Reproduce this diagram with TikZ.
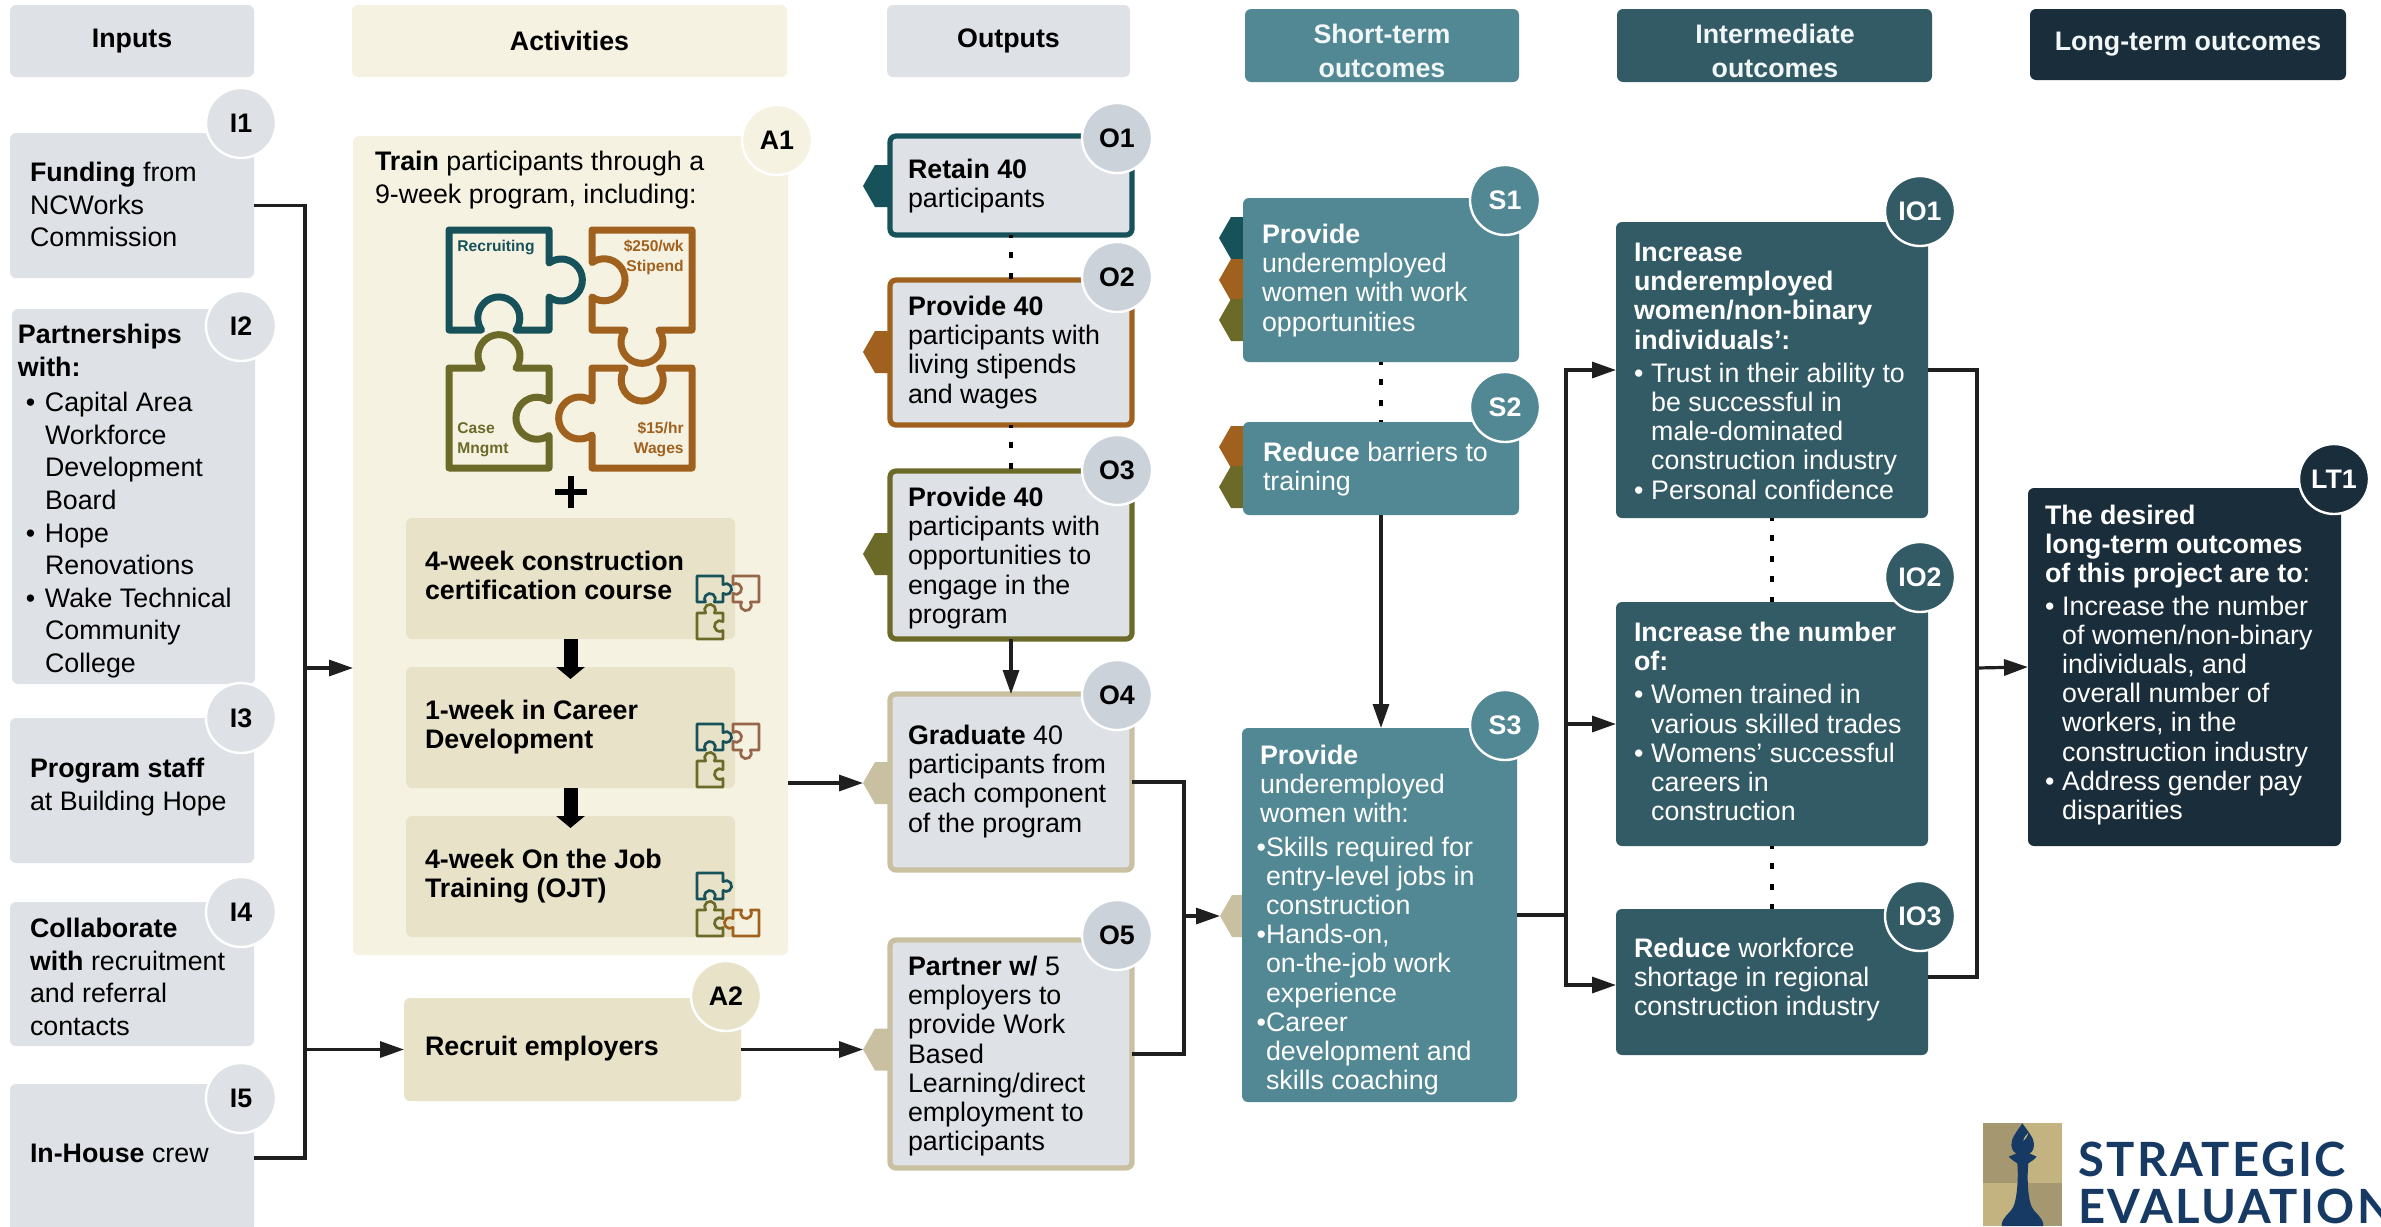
\documentclass[tikz,border=0pt]{standalone}
\usepackage{fontspec}
\setmainfont{Liberation Sans}
\newfontfamily\logofont[LetterSpace=5]{Lato}
\usetikzlibrary{arrows.meta,calc}
\definecolor{gfill}{HTML}{DEE1E6}
\definecolor{gbadge}{HTML}{CBD2DA}
\definecolor{cream}{HTML}{F5F2E1}
\definecolor{sand}{HTML}{E8E2C8}
\definecolor{stc}{HTML}{528893}
\definecolor{imc}{HTML}{335B66}
\definecolor{ltc}{HTML}{1A2D3B}
\definecolor{pteal}{HTML}{17525B}
\definecolor{pbrown}{HTML}{A0611E}
\definecolor{pbrownb}{HTML}{96664A}
\definecolor{polive}{HTML}{6B6A28}
\definecolor{ptan}{HTML}{C9C0A2}
\definecolor{navy}{HTML}{163A63}
\definecolor{lgdark}{HTML}{A59870}
\definecolor{lglight}{HTML}{C3B380}
\tikzset{
  x=0.5pt,y=-0.5pt,
  boxbase/.style={rectangle,inner sep=0pt,outer sep=0pt,rounded corners=3pt},
  grey/.style={fill=gfill},
  bord/.style={fill=gfill,draw=#1,line width=2.6pt},
  txta/.style={anchor=north west,inner sep=0pt,outer sep=0pt,align=left,font=\fontsize{13.4}{16.3}\selectfont,text=#1},
  txta/.default=black,
  txtb/.style={anchor=north west,inner sep=0pt,outer sep=0pt,align=left,font=\fontsize{13.4}{14.6}\selectfont,text=#1},
  txtb/.default=black,
  hdr/.style={anchor=center,inner sep=0pt,outer sep=0pt,align=center,font=\fontsize{13.4}{17}\selectfont\bfseries,text=#1},
  hdr/.default=black,
  pz/.style={anchor=center,inner sep=0pt,align=#1,font=\fontsize{7.8}{10}\selectfont\bfseries},
  conn/.style={line width=1.6pt,color=black!88},
  arr/.style={conn,-{Triangle[length=12pt,width=8pt]}},
  dots/.style={line width=1.8pt,dash pattern=on 3pt off 7.2pt,dash phase=1.5pt,color=black},
  block/.style={line width=7pt,-{Triangle[length=6pt,width=14pt]},shorten >=-6pt},
}
\newcommand\mybox[6]{\node[boxbase,#6,minimum width={(#4-#2)*0.5pt},minimum height={(#5-#3)*0.5pt}] (#1) at ({(#2+#4)/2},{(#3+#5)/2}) {};}
\newcommand\mybadge[5]{\node[circle,inner sep=0pt,minimum size=35pt,fill=#4,draw=white,line width=1.2pt,text=#5,font=\fontsize{13.4}{16}\selectfont\bfseries] (b#1) at (#2,#3) {#1};}
\newcommand\mytag[4]{\fill[#4] (#2,#3) -- (#2+12,#3-21) -- (#2+28,#3-21) -- (#2+28,#3+21) -- (#2+12,#3+21) -- cycle; \coordinate (#1) at (#2,#3);}
% puzzle piece: centre x, y, rotation, scale, colour, line width
\newcommand\mypuz[6]{\draw[#5,line width=#6,line join=round,shift={(#1,#2)},rotate=#3,scale=#4]
  (-50,-50) -- (50,-50) -- (50,-17) arc[start angle=-126,end angle=126,radius=21] -- (50,50) -- (17,50)
  arc[start angle=35,end angle=-215,radius=21] -- (-50,50) -- cycle;}
\newcommand\mybul{\makebox[8.6pt][l]{•}}
\newcommand\myind{\hspace*{8.6pt}}
\newcommand\mybuli{\hspace*{4pt}\makebox[9.5pt][l]{•}}
\newcommand\myindi{\hspace*{13.5pt}}
\newcommand\mybuls{\hspace*{3pt}\makebox[0pt][r]{•}}
\begin{document}
\begin{tikzpicture}
\useasboundingbox (0,0) rectangle (2381,1226);
% headers
\mybox{hI}{10}{5}{254}{77}{grey}
\mybox{hA}{352}{5}{787}{77}{fill=cream}
\mybox{hO}{887}{5}{1130}{77}{grey}
\mybox{hS}{1245}{9}{1519}{82}{fill=stc}
\mybox{hM}{1617}{9}{1932}{82}{fill=imc}
\mybox{hL}{2030}{9}{2346}{80}{fill=ltc}
\node[hdr] (thI) at (hI.center) {Inputs};
\node[hdr] (thA) at (hA.center) {Activities};
\node[hdr] (thO) at (hO.center) {Outputs};
\node[hdr=white!92!stc] (thS) at (1382,51) {Short-term\\outcomes};
\node[hdr=white!92!stc] (thM) at (1775,51) {Intermediate\\outcomes};
\node[hdr=white!92!stc] (thL) at (hL.center) {Long-term outcomes};
% inputs
\mybox{I1}{10}{133}{254}{278}{grey}
\mybox{I2}{12}{309}{255}{684}{grey}
\mybox{I3}{10}{718}{254}{863}{grey}
\mybox{I4}{10}{902}{254}{1046}{grey}
\mybox{I5}{10}{1084}{254}{1232}{grey}
\node[txta] (tI1) at (30,162) {\textbf{Funding} from\\NCWorks\\Commission};
\node[txta] (tI2) at (18,324) {\textbf{Partnerships}\\\textbf{with:}\\[1.5pt]\mybuli Capital Area\\\myindi Workforce\\\myindi Development\\\myindi Board\\\mybuli Hope\\\myindi Renovations\\\mybuli Wake Technical\\\myindi Community\\\myindi College};
\node[txta] (tI3) at (30,758) {\textbf{Program staff}\\at Building Hope};
\node[txta] (tI4) at (30,918) {\textbf{Collaborate}\\\textbf{with} recruitment\\and referral\\contacts};
\node[txta] (tI5) at (30,1144) {\textbf{In-House} crew};
% activities
\mybox{A1}{353}{136}{788}{955}{fill=cream}
\node[txta] (tA1) at (375,151) {\textbf{Train} participants through a\\9-week program, including:};
\mypuz{499}{280}{0}{1}{pteal}{3.5pt}
\mypuz{642}{280}{-90}{1}{pbrown}{3.5pt}
\mypuz{499}{418}{90}{1}{polive}{3.5pt}
\mypuz{642}{418}{180}{1}{pbrown}{3.5pt}
\node[pz=left,text=pteal,anchor=west] (pz1) at (457,247) {Recruiting};
\node[pz=right,text=pbrown,anchor=north east] (pz2) at (684,240) {\$250/wk\\Stipend};
\node[pz=left,text=polive,anchor=north west] (pz3) at (457,422) {Case\\Mngmt};
\node[pz=right,text=pbrown,anchor=north east] (pz4) at (684,422) {\$15/hr\\Wages};
\fill[black] (568,476) rectangle (574,508);
\fill[black] (555,489) rectangle (587,495);
\mybox{s1}{406}{518}{735}{639}{fill=sand}
\mybox{s2}{406}{667}{735}{788}{fill=sand}
\mybox{s3}{406}{816}{735}{937}{fill=sand}
\node[txtb] (ts1) at (425,551) {\textbf{4-week construction}\\\textbf{certification course}};
\node[txtb] (ts2) at (425,700) {\textbf{1-week in Career}\\\textbf{Development}};
\node[txtb] (ts3) at (425,849) {\textbf{4-week On the Job}\\\textbf{Training (OJT)}};
\draw[block] (s1.south) -- (s2.north);
\draw[block] (s2.south) -- (s3.north);
\foreach \dy in {0,148}{
  \mypuz{710}{\dy+589}{0}{0.26}{pteal}{1.35pt}
  \mypuz{746}{\dy+589}{-90}{0.26}{pbrownb}{1.35pt}
  \mypuz{710}{\dy+626}{90}{0.26}{polive}{1.35pt}
}
\mypuz{710}{886}{0}{0.26}{pteal}{1.35pt}
\mypuz{710}{923}{90}{0.26}{polive}{1.35pt}
\mypuz{746}{923}{180}{0.26}{pbrown}{1.35pt}
\mybox{A2}{404}{998}{741}{1101}{fill=sand}
\node[txtb] (tA2) at (425,1036) {\textbf{Recruit employers}};
% outputs
\mytag{tO1}{863}{186}{pteal}
\mytag{tO2}{863}{352}{pbrown}
\mytag{tO3}{863}{554}{polive}
\mytag{tO4}{863}{783}{ptan}
\mytag{tO5}{863}{1049.5}{ptan}
\mybox{O1}{890}{136}{1132}{235}{bord=pteal}
\mybox{O2}{890}{280}{1132}{425}{bord=pbrown}
\mybox{O3}{890}{471}{1132}{639}{bord=polive}
\mybox{O4}{890}{694}{1132}{870}{bord=ptan}
\mybox{O5}{890}{940}{1132}{1168}{bord=ptan}
\node[txtb] (tO1t) at (908,159) {\textbf{Retain 40}\\participants};
\node[txtb] (tO2t) at (908,296) {\textbf{Provide 40}\\participants with\\living stipends\\and wages};
\node[txtb] (tO3t) at (908,487) {\textbf{Provide 40}\\participants with\\opportunities to\\engage in the\\program};
\node[txtb] (tO4t) at (908,725) {\textbf{Graduate} 40\\participants from\\each component\\of the program};
\node[txtb] (tO5t) at (908,956) {\textbf{Partner w/} 5\\employers to\\provide Work\\Based\\Learning/direct\\employment to\\participants};
% short-term
\mytag{tS1}{1219}{238}{pteal}
\mytag{tS1b}{1219}{280}{pbrown}
\mytag{tS1c}{1219}{320}{polive}
\mytag{tS2}{1219}{447}{pbrown}
\mytag{tS2b}{1219}{487}{polive}
\mytag{tS3}{1220}{916}{ptan}
\mybox{S1}{1243}{198}{1519}{362}{fill=stc}
\mybox{S2}{1243}{422}{1519}{515}{fill=stc}
\mybox{S3}{1242}{728}{1517}{1102}{fill=stc}
\node[txtb=white] (tS1t) at (1262,224) {\textbf{Provide}\\underemployed\\women with work\\opportunities};
\node[txtb=white] (tS2t) at (1263,442) {\textbf{Reduce} barriers to\\training};
\node[txtb=white] (tS3t) at (1260,745) {\textbf{Provide}\\underemployed\\women with:\\[2pt]\mybuls Skills required for\\\hspace*{3pt}entry-level jobs in\\\hspace*{3pt}construction\\\mybuls Hands-on,\\\hspace*{3pt}on-the-job work\\\hspace*{3pt}experience\\\mybuls Career\\\hspace*{3pt}development and\\\hspace*{3pt}skills coaching};
% intermediate
\mybox{IO1}{1616}{222}{1928}{518}{fill=imc}
\mybox{IO2}{1616}{602}{1928}{846}{fill=imc}
\mybox{IO3}{1616}{909}{1928}{1055}{fill=imc}
\node[txtb=white] (tM1) at (1634,243) {\textbf{Increase}\\\textbf{underemployed}\\\textbf{women/non-binary}\\\textbf{individuals':}\\[2pt]\mybul Trust in their ability to\\\myind be successful in\\\myind male-dominated\\\myind construction industry\\\mybul Personal confidence};
\node[txtb=white] (tM2) at (1634,622) {\textbf{Increase the number}\\\textbf{of:}\\[2pt]\mybul Women trained in\\\myind various skilled trades\\\mybul Womens' successful\\\myind careers in\\\myind construction};
\node[txtb=white] (tM3) at (1634,938) {\textbf{Reduce} workforce\\shortage in regional\\construction industry};
% long-term
\mybox{LT}{2028}{488}{2341}{846}{fill=ltc}
\node[txtb=white] (tL) at (2045,505) {\textbf{The desired}\\\textbf{long-term outcomes}\\\textbf{of this project are to}:\\[1.5pt]\mybul Increase the number\\\myind of women/non-binary\\\myind individuals, and\\\myind overall number of\\\myind workers, in the\\\myind construction industry\\\mybul Address gender pay\\\myind disparities};
% connectors
\coordinate (j1) at (305,668);
\coordinate (j2) at (305,1049.5);
\draw[conn] (I1.east) -| (j1) |- (I5.east);
\draw[arr] (j1) -- (A1.west |- j1);
\draw[arr] (j2) -- (A2.west);
\draw[arr] (A1.east |- tO4) -- (tO4);
\draw[arr] (A2.east) -- (tO5);
\draw[dots] (O1.south) -- (O2.north);
\draw[dots] (O2.south) -- (O3.north);
\draw[arr] (O3.south) -- (O4.north);
\coordinate (j3) at (1184,916);
\draw[conn] (O4.east) -| (j3) |- (O5.east);
\draw[arr] (j3) -- (tS3);
\draw[dots] (S1.south) -- (S2.north);
\draw[arr] (S2.south) -- (S2.south |- S3.north);
\coordinate (j4) at (1566,915);
\draw[conn] (S3.east) -- (j4);
\draw[arr] (j4) |- (IO1.west);
\draw[arr] (j4) |- (IO2.west);
\draw[arr] (j4) |- ($(IO3.west)+(0,3)$);
\draw[dots] (IO1.south) -- (IO2.north);
\draw[dots] (IO2.south) -- (IO3.north);
\coordinate (j5) at (1977,668);
\draw[conn] (IO1.east) -| (j5) |- ($(IO3.east)+(0,-5)$);
\draw[arr] (j5) -- (LT.west);
% badges
\mybadge{I1}{241}{123}{gfill}{black}
\mybadge{I2}{241}{326}{gfill}{black}
\mybadge{I3}{241}{718}{gfill}{black}
\mybadge{I4}{241}{912}{gfill}{black}
\mybadge{I5}{241}{1098}{gfill}{black}
\mybadge{A1}{777}{140}{cream}{black}
\mybadge{A2}{726}{996}{sand}{black}
\mybadge{O1}{1117}{138}{gbadge}{black}
\mybadge{O2}{1117}{277}{gbadge}{black}
\mybadge{O3}{1117}{470}{gbadge}{black}
\mybadge{O4}{1117}{695}{gbadge}{black}
\mybadge{O5}{1117}{935}{gbadge}{black}
\mybadge{S1}{1505}{200}{stc}{white}
\mybadge{S2}{1505}{407}{stc}{white}
\mybadge{S3}{1505}{725}{stc}{white}
\mybadge{IO1}{1920}{211}{imc}{white}
\mybadge{IO2}{1920}{577}{imc}{white}
\mybadge{IO3}{1920}{916}{imc}{white}
\mybadge{LT1}{2334}{479}{ltc}{white}
% logo
\fill[lgdark] (1983,1123) rectangle (2023,1183);
\fill[lglight] (2023,1123) rectangle (2062,1183);
\fill[lglight] (1983,1183) rectangle (2023,1226);
\fill[lgdark] (2023,1183) rectangle (2062,1226);
\begin{scope}[shift={(1900,1060)},scale=0.3333]
\fill[navy] (367,190) .. controls (350,215) and (333,235) .. (334,255) .. controls (335,270) and (342,278) .. (350,280)
  -- (326,290) .. controls (335,300) and (345,305) .. (352,310) .. controls (356,360) and (350,420) .. (340,440) .. controls (330,462) and (305,470) .. (305,498)
  -- (430,498) .. controls (430,470) and (405,462) .. (395,440) .. controls (385,420) and (380,360) .. (385,310) .. controls (392,305) and (402,300) .. (410,290)
  -- (388,280) .. controls (396,278) and (402,268) .. (402,252) .. controls (402,235) and (385,215) .. (367,190) -- cycle;
\fill[lglight] (385,218) .. controls (378,225) and (372,232) .. (370,243) .. controls (376,238) and (382,230) .. (385,218) -- cycle;
\end{scope}
\node[anchor=base west,inner sep=0pt,text=navy,font=\logofont\bfseries\fontsize{23.6}{26}\selectfont] (lg1) at (2078,1176) {STRATEGIC};
\node[anchor=base west,inner sep=0pt,text=navy,font=\logofont\bfseries\fontsize{23.6}{26}\selectfont] (lg2) at (2078,1223) {EVALUATION};
\end{tikzpicture}
\end{document}
